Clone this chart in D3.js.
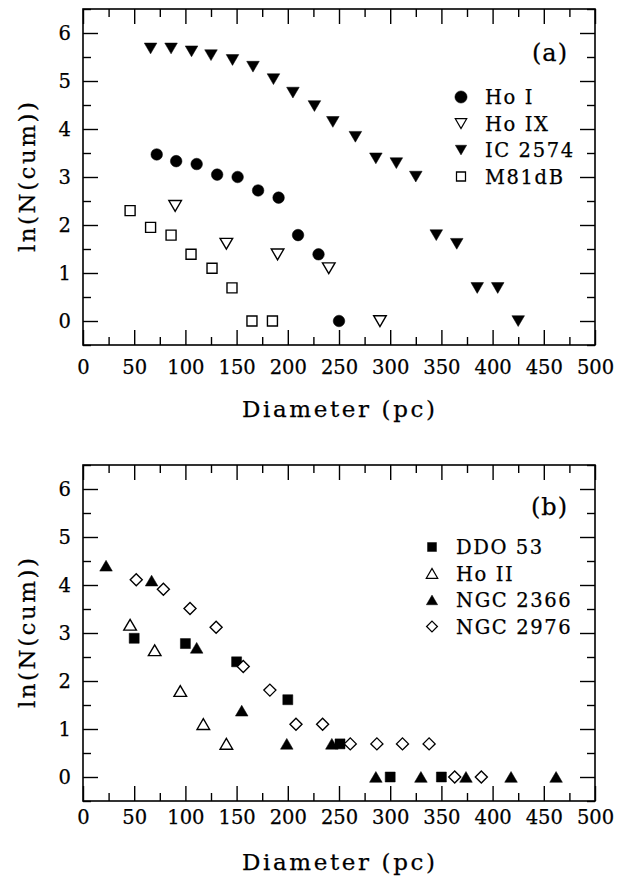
<!DOCTYPE html>
<html>
<head>
<meta charset="utf-8">
<script src="https://cdn.jsdelivr.net/npm/d3@7"></script>
<style>
  body { margin: 0; background: #fff; }
  text { font-family: "DejaVu Serif", serif; fill: #000; stroke: #000; stroke-width: 0.25px; }
</style>
</head>
<body>
<svg width="621" height="876"></svg>
<script>
// panel (a)
var hoI_x = [72, 91, 111, 131, 151, 171, 191, 210, 230, 250];
var hoI_y = [3.47, 3.33, 3.27, 3.05, 3.0, 2.72, 2.57, 1.79, 1.39, 0];
var hoIX_x = [90, 140, 190, 240, 290];
var hoIX_y = [2.40, 1.61, 1.39, 1.10, 0];
var ic2574_x = [66, 86, 106, 125, 146, 166, 186, 205, 226, 244, 266, 286, 306, 325, 345, 365, 385, 405, 425];
var ic2574_y = [5.68, 5.68, 5.62, 5.54, 5.44, 5.30, 5.04, 4.76, 4.48, 4.15, 3.84, 3.39, 3.29, 3.01, 1.79, 1.61, 0.69, 0.69, 0];
var m81db_x = [46, 66, 86, 105.5, 126, 145.5, 165, 185];
var m81db_y = [2.30, 1.95, 1.79, 1.39, 1.10, 0.69, 0, 0];

// panel (b)
var ddo53_x = [50, 100, 150, 200, 251, 300, 350];
var ddo53_y = [2.89, 2.78, 2.40, 1.61, 0.69, 0, 0];
var hoII_x = [46, 70, 95, 117.5, 140];
var hoII_y = [3.17, 2.64, 1.79, 1.10, 0.69];
var ngc2366_x = [22.5, 67, 111, 155, 199, 243, 286, 330, 374, 418, 462];
var ngc2366_y = [4.40, 4.09, 2.69, 1.38, 0.69, 0.69, 0, 0, 0, 0, 0];
var ngc2976_x = [52, 78.5, 104.5, 130, 156.5, 182.5, 208, 234, 261, 287, 312, 338, 363, 389];
var ngc2976_y = [4.11, 3.91, 3.51, 3.12, 2.30, 1.81, 1.10, 1.10, 0.69, 0.69, 0.69, 0.69, 0, 0];

var xMajor = [0, 50, 100, 150, 200, 250, 300, 350, 400, 450, 500];
var xMinor = [25, 75, 125, 175, 225, 275, 325, 375, 425, 475];
var yMajor = [0, 1, 2, 3, 4, 5, 6];
var yMinor = [-0.5, 0.5, 1.5, 2.5, 3.5, 4.5, 5.5, 6.5];

var svg = d3.select("svg");

// marker shapes, centred on their bounding box
function markerPath(shape) {
	if (shape == "circle") return d3.symbol(d3.symbolCircle, Math.PI * 5.8 * 5.8)();
	if (shape == "tridown") return "M-6.3,-5.3L6.3,-5.3L0,5.5Z";
	if (shape == "triup") return "M-6.3,5.3L6.3,5.3L0,-5.5Z";
	if (shape == "square") return "M-5,-5L5,-5L5,5L-5,5Z";
	if (shape == "diamond") return "M0,-6L6,0L0,6L-6,0Z";
}

function zip(xs, ys) {
	return xs.map(function(d, i) { return {x: d, y: ys[i]}; });
}

function drawPanel(cfg) {
	var x = d3.scaleLinear().domain([0, 500]).range([83, 595]);
	var y = d3.scaleLinear().domain([-0.5, 6.5]).range([cfg.bottom, cfg.bottom - 336]);
	var g = svg.append("g");

	// ticks, all pointing inwards
	function styleAxis(sel) {
		sel.select(".domain").remove();
		sel.selectAll("line").attr("stroke", "#000").attr("stroke-width", 1.4);
		sel.selectAll("text").style("font-family", "DejaVu Serif").style("font-size", "19.5px").attr("fill", "#000");
	}
	g.append("g").attr("transform", "translate(0," + y(-0.5) + ")")
		.call(d3.axisBottom(x).tickValues(xMajor).tickSize(-15).tickPadding(cfg.xPad).tickFormat(d3.format("d")))
		.call(styleAxis);
	g.append("g").attr("transform", "translate(0," + y(-0.5) + ")")
		.call(d3.axisBottom(x).tickValues(xMinor).tickSize(-8).tickFormat(""))
		.call(styleAxis);
	g.append("g").attr("transform", "translate(0," + y(6.5) + ")")
		.call(d3.axisTop(x).tickValues(xMajor).tickSize(-15).tickFormat(""))
		.call(styleAxis);
	g.append("g").attr("transform", "translate(0," + y(6.5) + ")")
		.call(d3.axisTop(x).tickValues(xMinor).tickSize(-8).tickFormat(""))
		.call(styleAxis);
	g.append("g").attr("transform", "translate(" + x(0) + ",0)")
		.call(d3.axisLeft(y).tickValues(yMajor).tickSize(-15).tickPadding(12).tickFormat(d3.format("d")))
		.call(styleAxis);
	g.append("g").attr("transform", "translate(" + x(0) + ",0)")
		.call(d3.axisLeft(y).tickValues(yMinor).tickSize(-8).tickFormat(""))
		.call(styleAxis);
	g.append("g").attr("transform", "translate(" + x(500) + ",0)")
		.call(d3.axisRight(y).tickValues(yMajor).tickSize(-15).tickFormat(""))
		.call(styleAxis);
	g.append("g").attr("transform", "translate(" + x(500) + ",0)")
		.call(d3.axisRight(y).tickValues(yMinor).tickSize(-8).tickFormat(""))
		.call(styleAxis);

	// frame
	g.append("rect")
		.attr("x", x(0)).attr("y", y(6.5))
		.attr("width", x(500) - x(0)).attr("height", y(-0.5) - y(6.5))
		.attr("fill", "none").attr("stroke", "#000").attr("stroke-width", 1.6);

	// points
	cfg.series.forEach(function(s) {
		g.append("g").selectAll("path")
			.data(zip(s.xs, s.ys))
			.enter()
			.append("path")
			.attr("d", markerPath(s.shape))
			.attr("transform", function(d) { return "translate(" + x(d.x) + "," + y(d.y) + ")"; })
			.attr("fill", s.filled ? "#000" : "#fff")
			.attr("stroke", "#000")
			.attr("stroke-width", s.filled ? 0.5 : 1.4);
	});

	// legend
	var leg = g.append("g").selectAll("g")
		.data(cfg.series)
		.enter()
		.append("g")
		.attr("transform", function(d, i) { return "translate(" + cfg.legX + "," + (cfg.legY + i * 26.5) + ")"; });
	leg.append("path")
		.attr("d", function(d) { return markerPath(d.shape); })
		.attr("transform", function(d) { return d.shape == "circle" ? "scale(1.05)" : "scale(0.9)"; })
		.attr("fill", function(d) { return d.filled ? "#000" : "#fff"; })
		.attr("stroke", "#000")
		.attr("stroke-width", function(d) { return d.filled ? 0.5 : 1.4; });
	leg.append("text")
		.attr("x", 24)
		.attr("y", 7)
		.style("font-size", "19.5px")
		.style("letter-spacing", "1.6px")
		.text(function(d) { return d.name; });

	g.append("text")
		.attr("x", 568).attr("y", y(6.5) + cfg.tagDy)
		.attr("text-anchor", "end")
		.style("font-size", "24px")
		.style("letter-spacing", "1px")
		.text(cfg.tag);

	// axis titles
	g.append("text")
		.attr("x", 338.5).attr("y", cfg.titleY)
		.attr("text-anchor", "middle")
		.attr("textLength", 193).attr("lengthAdjust", "spacing")
		.style("font-size", "23px")
		.text("Diameter (pc)");
	g.append("text")
		.attr("transform", "translate(35," + y(3) + ") rotate(-90)")
		.attr("text-anchor", "middle")
		.attr("textLength", 150).attr("lengthAdjust", "spacing")
		.style("font-size", "23px")
		.text("ln(N(cum))");
}

drawPanel({
	bottom: 345,
	xPad: 15,
	titleY: 417,
	tag: "(a)",
	tagDy: 52,
	legX: 461,
	legY: 97,
	series: [
		{name: "Ho I", xs: hoI_x, ys: hoI_y, shape: "circle", filled: true},
		{name: "Ho IX", xs: hoIX_x, ys: hoIX_y, shape: "tridown", filled: false},
		{name: "IC 2574", xs: ic2574_x, ys: ic2574_y, shape: "tridown", filled: true},
		{name: "M81dB", xs: m81db_x, ys: m81db_y, shape: "square", filled: false}
	]
});

drawPanel({
	bottom: 801,
	xPad: 9,
	titleY: 870,
	tag: "(b)",
	tagDy: 50,
	legX: 432,
	legY: 547,
	series: [
		{name: "DDO 53", xs: ddo53_x, ys: ddo53_y, shape: "square", filled: true},
		{name: "Ho II", xs: hoII_x, ys: hoII_y, shape: "triup", filled: false},
		{name: "NGC 2366", xs: ngc2366_x, ys: ngc2366_y, shape: "triup", filled: true},
		{name: "NGC 2976", xs: ngc2976_x, ys: ngc2976_y, shape: "diamond", filled: false}
	]
});
</script>
</body>
</html>
